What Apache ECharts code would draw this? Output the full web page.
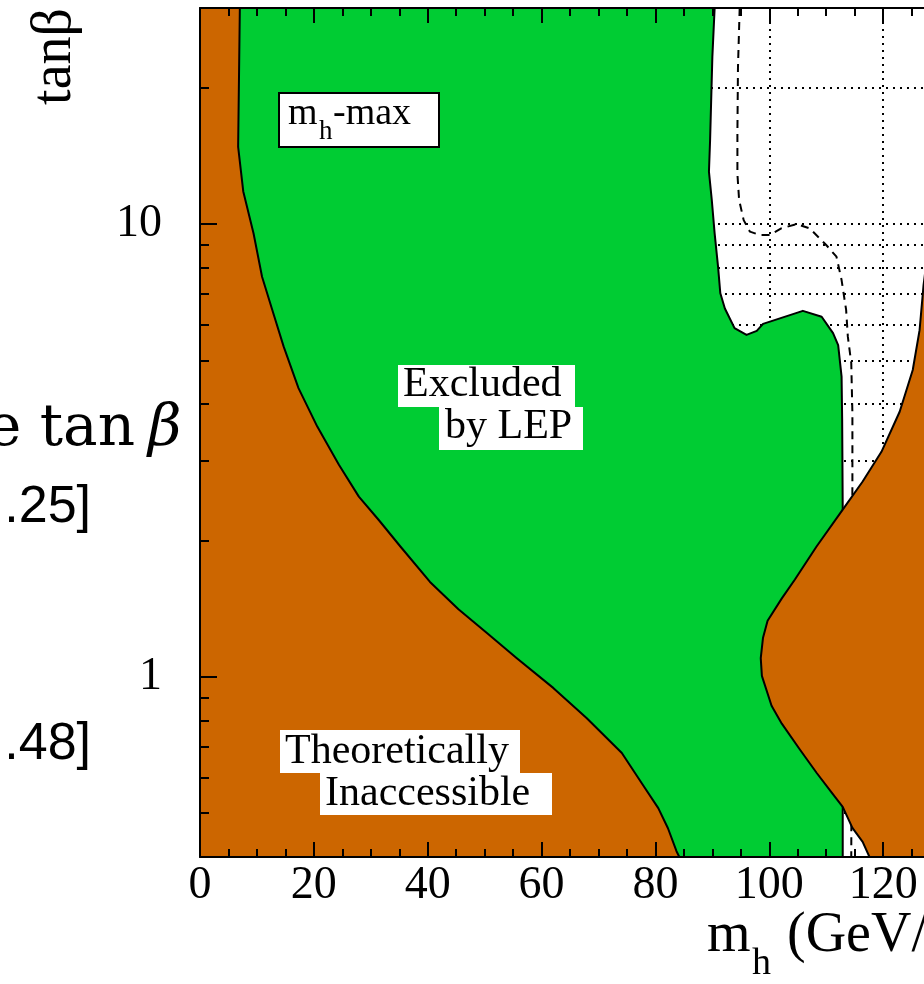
<!DOCTYPE html>
<html>
<head>
<meta charset="utf-8">
<script src="https://cdn.jsdelivr.net/npm/echarts@6.0.0/dist/echarts.min.js"></script>
<style>
html, body { margin: 0; padding: 0; background: #fff; }
#chart { width: 924px; height: 984px; }
</style>
</head>
<body>
<div id="chart"></div>
<script>
// axis ranges (tanb is drawn on a log10 scale)
var mhMin = 0, mhMax = 140, mhStep = 20;
var tbMin = 0.4, tbMax = 30;
var tbMajorTicks = [1, 10];
var tbMinorTicks = [0.5, 0.6, 0.7, 0.8, 0.9, 2, 3, 4, 5, 6, 7, 8, 9, 20];

// [mh, tanb] outlines
var lepEdge = [[90.4, 30], [90.0, 23.4], [89.6, 15.3], [89.4, 13.05], [89.9, 11.3], [90.4, 9.54],
    [91.0, 8.05], [91.4, 7.03], [92.2, 6.51], [93.9, 5.89], [96.0, 5.69], [97.8, 5.81], [98.9, 6.02],
    [105.9, 6.43], [109.2, 6.24], [111.2, 5.74], [112.1, 5.40], [112.7, 4.60], [112.8, 3.71],
    [112.9, 2.34], [112.9, 0.4]];
var theoLeftEdge = [[7.0, 30], [6.7, 14.8], [7.6, 11.8], [9.4, 9.54], [10.9, 7.65], [12.7, 6.46],
    [14.7, 5.36], [17.3, 4.34], [20.6, 3.57], [24.4, 2.94], [27.9, 2.50], [31.4, 2.22], [35.2, 1.94],
    [40.4, 1.62], [45.4, 1.41], [50.4, 1.25], [55.6, 1.10], [62.1, 0.944], [67.9, 0.811],
    [74.1, 0.679], [77.6, 0.582], [80.5, 0.513], [82.2, 0.463], [83.7, 0.412], [84.2, 0.4]];
var theoRightEdge = [[135, 30], [129.0, 11.3], [127.1, 7.33], [126.4, 5.83], [125.2, 4.76],
    [122.9, 3.85], [119.7, 3.14], [116.4, 2.70], [112.9, 2.34], [108.3, 1.94], [104.5, 1.64],
    [102.2, 1.49], [99.7, 1.33], [98.9, 1.22], [98.5, 1.10], [98.7, 1.005], [100.4, 0.863],
    [102.2, 0.788], [105.4, 0.690], [108.3, 0.614], [111.1, 0.552], [112.9, 0.516], [114.6, 0.464],
    [116.4, 0.432], [117.6, 0.4]];
var expectedLimit = [[94.8, 30], [94.5, 22.2], [94.4, 15.9], [94.4, 12.9], [94.7, 11.3], [95.5, 10.2],
    [96.6, 9.62], [98.3, 9.46], [100.1, 9.46], [102.1, 9.78], [104.8, 10.0], [107.1, 9.78],
    [110.0, 8.99], [111.8, 8.47], [112.7, 7.52], [113.5, 6.46], [113.8, 5.64], [114.4, 4.93],
    [114.6, 3.82], [114.6, 2.72], [114.5, 1.0], [114.4, 0.4]];

var GREEN = '#00cc33', ORANGE = '#cc6600';
var SERIF = '"Liberation Serif", "Times New Roman", serif';

function lg(v) { return Math.log10(v); }
function toXY(pts) { return pts.map(function (p) { return [p[0], lg(p[1])]; }); }

function region(name, pts, color, z) {
    var data = toXY(pts);
    return {
        name: name,
        type: 'custom',
        z: z,
        clip: true,
        silent: true,
        data: data,
        renderItem: function (params, api) {
            if (params.dataIndex !== 0) return null;
            return {
                type: 'polygon',
                shape: { points: data.map(function (d) { return api.coord(d); }) },
                style: { fill: color, stroke: '#000', lineWidth: 2, lineJoin: 'round' }
            };
        }
    };
}

var blackLine = { color: '#000', width: 2 };
var dotted = { color: '#000', width: 2, type: [2, 5] };

function xAxis(extra) {
    return Object.assign({
        type: 'value', min: mhMin, max: mhMax, interval: mhStep, position: 'bottom',
        axisLine: { show: false, onZero: false }, axisTick: { show: false },
        axisLabel: { show: false }, splitLine: { show: false }
    }, extra);
}
function yAxis(extra) {
    return Object.assign({
        type: 'value', min: lg(tbMin), max: lg(tbMax), position: 'left',
        axisLine: { show: false, onZero: false }, axisTick: { show: false },
        axisLabel: { show: false }, splitLine: { show: false }
    }, extra);
}

function txt(x, y, text, size, extra) {
    return {
        type: 'text', x: x, y: y, z: 100, silent: true,
        style: Object.assign({
            text: text, fontSize: size, fontFamily: SERIF, fill: '#000',
            align: 'left', verticalAlign: 'middle'
        }, extra || {})
    };
}
function box(x, y, w, h, stroke) {
    return {
        type: 'rect', z: 99, silent: true,
        shape: { x: x, y: y, width: w, height: h },
        style: { fill: '#fff', stroke: stroke ? '#000' : null, lineWidth: stroke ? 2 : 0 }
    };
}

var yTitle = txt(55, 8, 'tanβ', 56, { align: 'right' });
yTitle.rotation = Math.PI / 2;

var myChart = echarts.init(document.getElementById('chart'));
var option = {
    animation: false,
    backgroundColor: '#fff',
    grid: { left: 200, top: 8, width: 797, bottom: 127, containLabel: false, outerBoundsMode: 'none' },
    xAxis: [
        xAxis({
            z: 10,
            axisLine: { show: true, onZero: false, lineStyle: blackLine },
            axisTick: { show: true, inside: true, length: 15, lineStyle: blackLine },
            minorTick: { show: true, splitNumber: 4, length: 8, lineStyle: blackLine },
            axisLabel: { show: true, margin: 6, color: '#000', fontSize: 46, fontFamily: SERIF }
        }),
        xAxis({
            position: 'top', z: 10,
            axisLine: { show: true, onZero: false, lineStyle: blackLine },
            axisTick: { show: true, inside: true, length: 15, lineStyle: blackLine },
            minorTick: { show: true, splitNumber: 4, length: 8, lineStyle: blackLine }
        }),
        xAxis({ z: 0, splitLine: { show: true, lineStyle: dotted } })
    ],
    yAxis: [
        yAxis({
            z: 10,
            axisLine: { show: true, onZero: false, lineStyle: blackLine },
            axisTick: { show: true, inside: true, length: 17, lineStyle: blackLine,
                customValues: tbMajorTicks.map(lg) },
            axisLabel: {
                show: true, margin: 38, color: '#000', fontSize: 46, fontFamily: SERIF,
                customValues: tbMajorTicks.map(lg),
                formatter: function (v) { return String(Math.round(Math.pow(10, v))); }
            }
        }),
        yAxis({
            z: 10,
            axisTick: { show: true, inside: true, length: 9, lineStyle: blackLine,
                customValues: tbMinorTicks.map(lg) }
        }),
        yAxis({
            z: 0,
            axisTick: { show: false, customValues: tbMajorTicks.concat(tbMinorTicks).map(lg) },
            splitLine: { show: true, lineStyle: dotted }
        })
    ],
    series: [
        region('Excluded by LEP', [[0, 30]].concat(lepEdge, [[0, 0.4]]), GREEN, 2),
        region('Theoretically inaccessible', [[0, 30]].concat(theoLeftEdge, [[0, 0.4]]), ORANGE, 3),
        {
            name: 'Expected limit', type: 'line', z: 4, silent: true,
            data: toXY(expectedLimit), symbol: 'none',
            lineStyle: { color: '#000', width: 2, type: [8, 6] }
        },
        region('Theoretically inaccessible (right)', theoRightEdge.concat([[140, 0.4], [140, 30]]), ORANGE, 5)
    ],
    graphic: [
        // axis titles
        yTitle,
        txt(707, 936, 'm', 56),
        txt(752, 964, 'h', 38),
        txt(787, 936, '(GeV/c²)', 56),
        // fragments of the neighbouring panel
        txt(135, 430, 'e tan', 58, { align: 'right', fontFamily: '"DejaVu Serif", serif' }),
        txt(148, 430, 'β', 58, { fontStyle: 'italic', fontFamily: '"DejaVu Serif", serif' }),
        txt(91, 508, '.25]', 52, { align: 'right', fontFamily: '"Liberation Sans", Arial, sans-serif' }),
        txt(91, 745, '.48]', 52, { align: 'right', fontFamily: '"Liberation Sans", Arial, sans-serif' }),
        // labels inside the plot
        box(279, 93, 160, 54, true),
        txt(288, 114, 'm', 38),
        txt(319, 132, 'h', 27),
        txt(333, 114, '-max', 38),
        box(398, 365, 177, 42),
        box(439, 407, 144, 43),
        txt(403, 385, 'Excluded', 42),
        txt(445, 427, 'by LEP', 42),
        box(280, 730, 240, 43),
        box(320, 773, 232, 42),
        txt(285, 752, 'Theoretically', 42),
        txt(325, 794, 'Inaccessible', 42)
    ]
};
myChart.setOption(option);
window.addEventListener('resize', function () {
    myChart.resize();
});
</script>
</body>
</html>
